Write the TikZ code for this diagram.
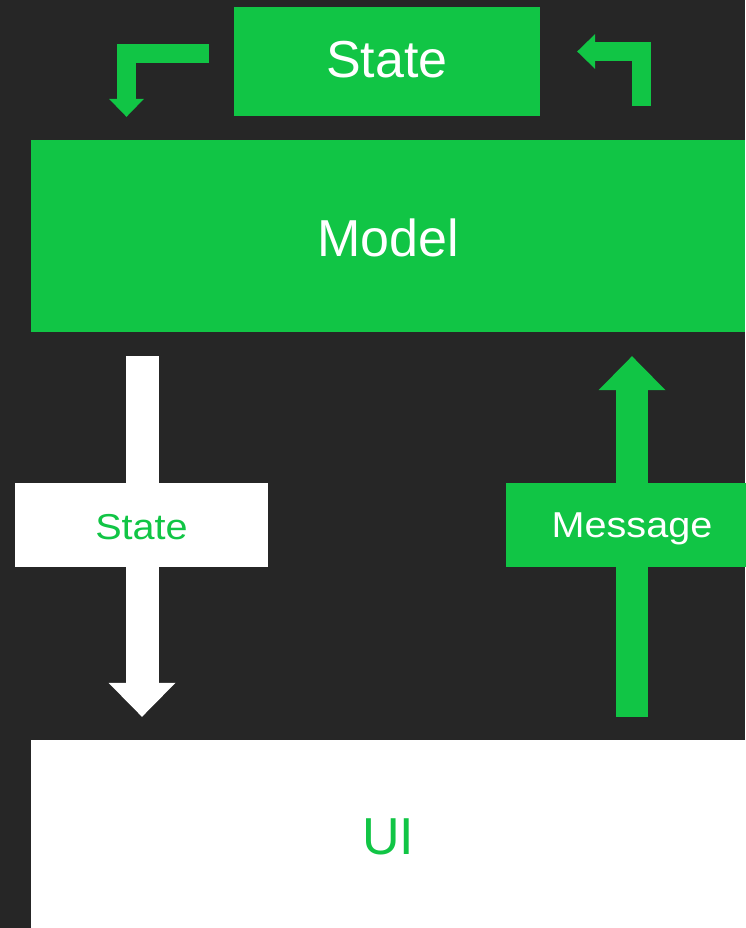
\documentclass[tikz,border=0pt]{standalone}
\usepackage{fontspec}
\setmainfont{Liberation Sans}
\usetikzlibrary{arrows.meta}

\definecolor{bgdark}{HTML}{262626}
\definecolor{elmgreen}{HTML}{11C545}

\begin{document}
\begin{tikzpicture}[x=1pt,y=-1pt,
    bigtext/.style={font=\fontsize{52}{62}\selectfont,text depth=0pt},
    smalltext/.style={font=\fontsize{36}{43}\selectfont,text depth=0pt},
    greenbox/.style={fill=elmgreen,text=white,inner sep=0pt},
    whitebox/.style={fill=white,text=elmgreen,inner sep=0pt},
    bent/.style={draw=elmgreen,line width=19pt,line join=miter,
      -{Triangle[length=18pt,width=35pt,line width=0pt]}},
    flow/.style={line width=33pt,
      -{Triangle[length=34pt,width=67pt,line width=0pt]}}]
  % Background
  \fill[bgdark] (0,0) rectangle (745,928);
  \useasboundingbox (0,0) rectangle (745,928);

  % Boxes
  \node[greenbox,bigtext,text height=33pt,minimum width=306pt,minimum height=109pt] (state) at (387,61.5) {State};
  \node[greenbox,bigtext,text height=40pt,minimum width=714pt,minimum height=192pt] (model) at (388,236) {Model};
  \node[whitebox,bigtext,text height=40pt,minimum width=714pt,minimum height=188pt] (ui) at (388,834) {UI};

  % Update loop on top
  \coordinate (lcol) at (126.5,0);
  \coordinate (rcol) at (641,0);
  \draw[bent] ([xshift=-25pt,yshift=7.5pt]state.west) -| ([yshift=23pt]model.north -| lcol);
  \draw[bent] ([yshift=34pt]model.north -| rcol) |- ([xshift=37pt,yshift=10pt]state.east);

  % State down, Message up
  \coordinate (dcol) at (142,0);
  \coordinate (ucol) at (632,0);
  \draw[flow,white,shorten <=24pt,shorten >=23pt] (dcol |- model.south) -- (dcol |- ui.north);
  \draw[flow,elmgreen,line width=32pt,shorten <=23pt,shorten >=24pt] (ucol |- ui.north) -- (ucol |- model.south);

  \node[whitebox,smalltext,text height=28pt,minimum width=253pt,minimum height=84pt] (statelbl) at (141.5,525) {\scalebox{1.1}[1]{State}};
  \node[greenbox,smalltext,text height=24pt,minimum width=252pt,minimum height=84pt] (msglbl) at (632,525) {\scalebox{1.1}[1]{Message}};
\end{tikzpicture}
\end{document}
